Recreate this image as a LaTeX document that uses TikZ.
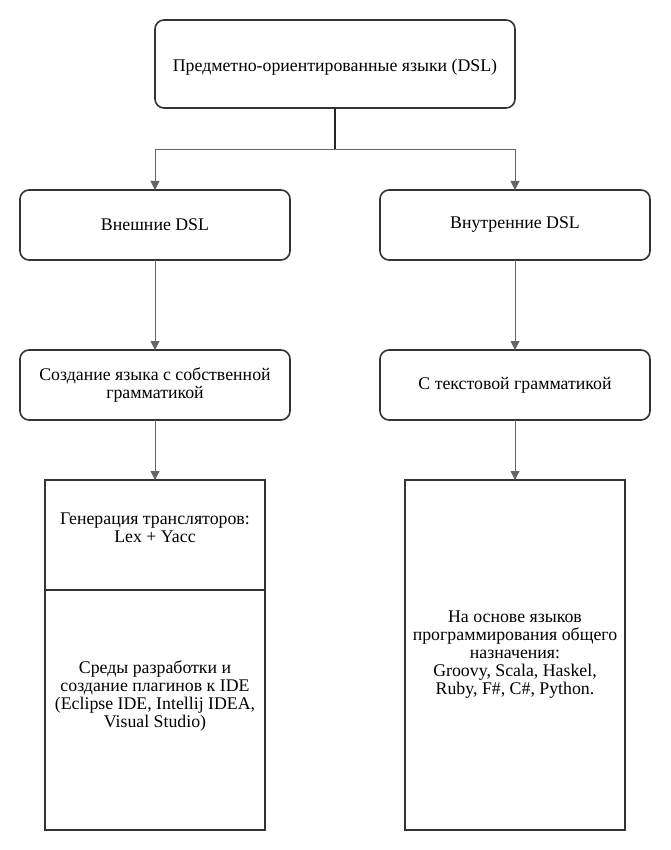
\documentclass[tikz,border=0pt]{standalone}
\usepackage{fontspec}
\setmainfont{Liberation Serif}
\usetikzlibrary{arrows.meta}
\begin{document}
\begin{tikzpicture}[x=1pt,y=-1pt,
  font=\fontsize{17.8}{18}\selectfont,
  rbox/.style={draw=black!80, line width=1.6pt, rounded corners=9pt, fill=white},
  sbox/.style={draw=black!80, line width=1.6pt, fill=white},
  txt/.style={align=center, inner sep=0pt},
  conn/.style={draw=black!60, line width=1pt, -{Triangle[length=9pt,width=9pt]}},
  trunk/.style={draw=black!85, line width=1.6pt}]
\useasboundingbox (0,0) rectangle (670,850);
% boxes
\draw[rbox] (155,20) rectangle (515,108);
\node[txt] (top) at (335,67) {Предметно-ориентированные языки (DSL)};
\draw[rbox] (20,190) rectangle (290,260);
\node[txt] (ext) at (155,225) {Внешние DSL};
\draw[rbox] (380,190) rectangle (650,260);
\node[txt] (int) at (515,225) {Внутренние DSL};
\draw[rbox] (20,350) rectangle (290,420);
\node[txt] (own) at (155,385) {Создание языка с собственной\\грамматикой};
\draw[rbox] (380,350) rectangle (650,420);
\node[txt] (textg) at (515,385) {С текстовой грамматикой};
\draw[sbox] (45,480) rectangle (265,830);
\draw[black!80, line width=1.6pt] (45,590) -- (265,590);
\node[txt] (gen) at (155,528) {Генерация трансляторов:\\Lex + Yacc};
\node[txt] (ide) at (155,696) {Среды разработки и\\создание плагинов к IDE\\(Eclipse IDE, Intellij IDEA,\\Visual Studio)};
\draw[sbox] (405,480) rectangle (625,830);
\node[txt] (gpl) at (515,655) {На основе языков\\программирования общего\\назначения:\\Groovy, Scala, Haskel,\\Ruby, F\#, C\#, Python.};
% coordinates
\coordinate (tb) at (335,108);
\coordinate (sp) at (335,150);
\coordinate (el) at (155,150);
\coordinate (er) at (515,150);
\coordinate (extT) at (155,190);
\coordinate (intT) at (515,190);
\coordinate (extB) at (155,260);
\coordinate (intB) at (515,260);
\coordinate (ownT) at (155,350);
\coordinate (txtT) at (515,350);
\coordinate (ownB) at (155,420);
\coordinate (txtB) at (515,420);
\coordinate (genT) at (155,480);
\coordinate (gplT) at (515,480);
% connectors
\draw[trunk] (tb) -- (sp);
\draw[conn] (sp) -- (el) -- (extT);
\draw[conn] (sp) -- (er) -- (intT);
\draw[conn] (extB) -- (ownT);
\draw[conn] (intB) -- (txtT);
\draw[conn] (ownB) -- (genT);
\draw[conn] (txtB) -- (gplT);
\end{tikzpicture}
\end{document}
